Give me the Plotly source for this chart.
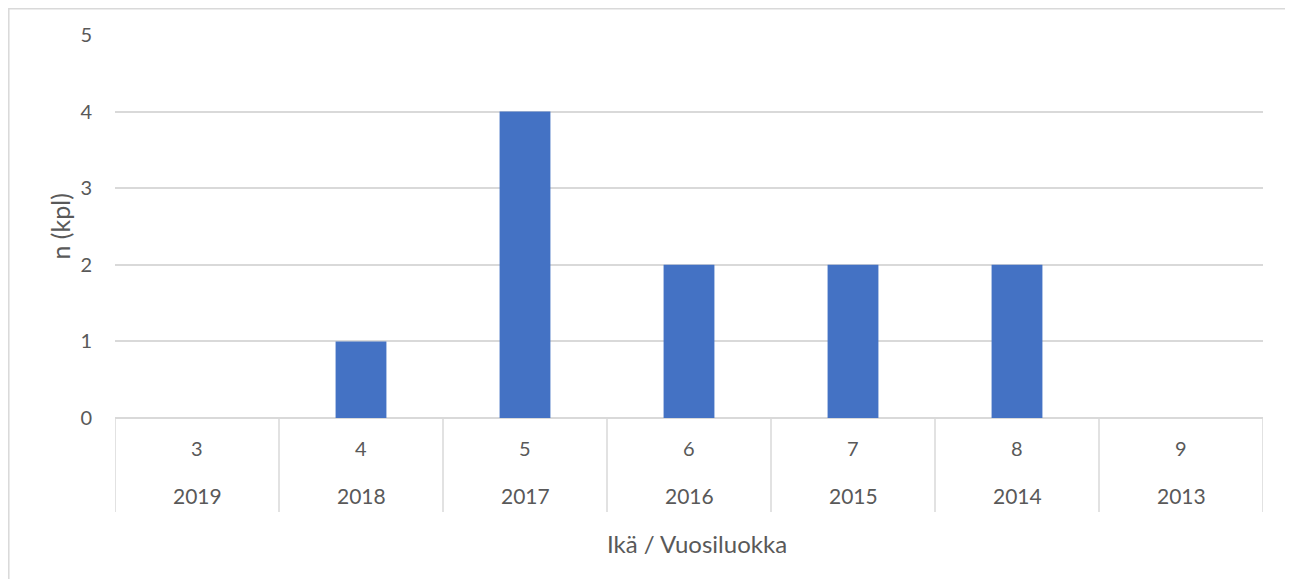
import plotly.graph_objects as go

ages = ["3", "4", "5", "6", "7", "8", "9"]
years = ["2019", "2018", "2017", "2016", "2015", "2014", "2013"]
counts = [0, 1, 4, 2, 2, 2, 0]
y_ticks = [0, 1, 2, 3, 4, 5]

# page body has an 8px margin; compensate so the plot lands where the reference has it
OFF = 8
W, H = 1293 - OFF, 579 - OFF
L, R, T, B = 115 - OFF, 30, 35 - OFF, 161
ph = H - T - B
pw = W - L - R

FONT = "Lato, 'Noto Sans', sans-serif"
GRAY = "#595959"
GRID = "#D9D9D9"

fig = go.Figure(go.Bar(x=list(range(len(ages))), y=counts, marker_color="#4472C4",
                       marker_line_width=0, width=0.31))

def py(px_below):
    return -px_below / ph

shapes = []
for i in range(len(ages) + 1):
    shapes.append(dict(type="line", xref="x", yref="paper", x0=i - 0.5, x1=i - 0.5,
                       y0=0, y1=py(94), line=dict(color=GRID, width=1.5)))
# outer chart border
shapes.append(dict(type="rect", xref="paper", yref="paper",
                   x0=(0.8 - L) / pw, x1=(1291 - OFF - L) / pw,
                   y0=py(200), y1=1 + (T - 0.8) / ph, line=dict(color=GRID, width=1.5)))

annotations = []
for i, (a, yr) in enumerate(zip(ages, years)):
    annotations.append(dict(x=i, y=py(30), xref="x", yref="paper", text=a, showarrow=False,
                            font=dict(size=20, color=GRAY, family=FONT), yanchor="middle"))
    annotations.append(dict(x=i, y=py(77), xref="x", yref="paper", text=yr, showarrow=False,
                            font=dict(size=21, color=GRAY, family=FONT), yanchor="middle"))
annotations.append(dict(x=0.5, y=py(125), xref="paper", yref="paper", text="Ikä / Vuosiluokka",
                        xshift=8, showarrow=False, font=dict(size=24, color=GRAY, family=FONT),
                        yanchor="middle"))
annotations.append(dict(x=0, y=0.5, xref="paper", yref="paper", text="n (kpl)", textangle=-90,
                        xshift=-56, xanchor="center", yanchor="middle", showarrow=False,
                        font=dict(size=25, color=GRAY, family=FONT)))

fig.update_layout(
    width=W, height=H, margin=dict(l=L, r=R, t=T, b=B),
    paper_bgcolor="white", plot_bgcolor="white",
    showlegend=False, shapes=shapes, annotations=annotations,
    font=dict(family=FONT, color=GRAY, size=20),
    xaxis=dict(range=[-0.5, 6.5], showticklabels=False, showgrid=False, zeroline=False,
               showline=False, ticks=""),
    yaxis=dict(range=[0, 5], tickvals=y_ticks, showgrid=True, gridcolor=GRID, gridwidth=1.5,
               zeroline=True, zerolinecolor=GRID, zerolinewidth=1.5, showline=False,
               ticklabelstandoff=22, tickfont=dict(size=20, color=GRAY)),
)

fig.write_html("out.html")
